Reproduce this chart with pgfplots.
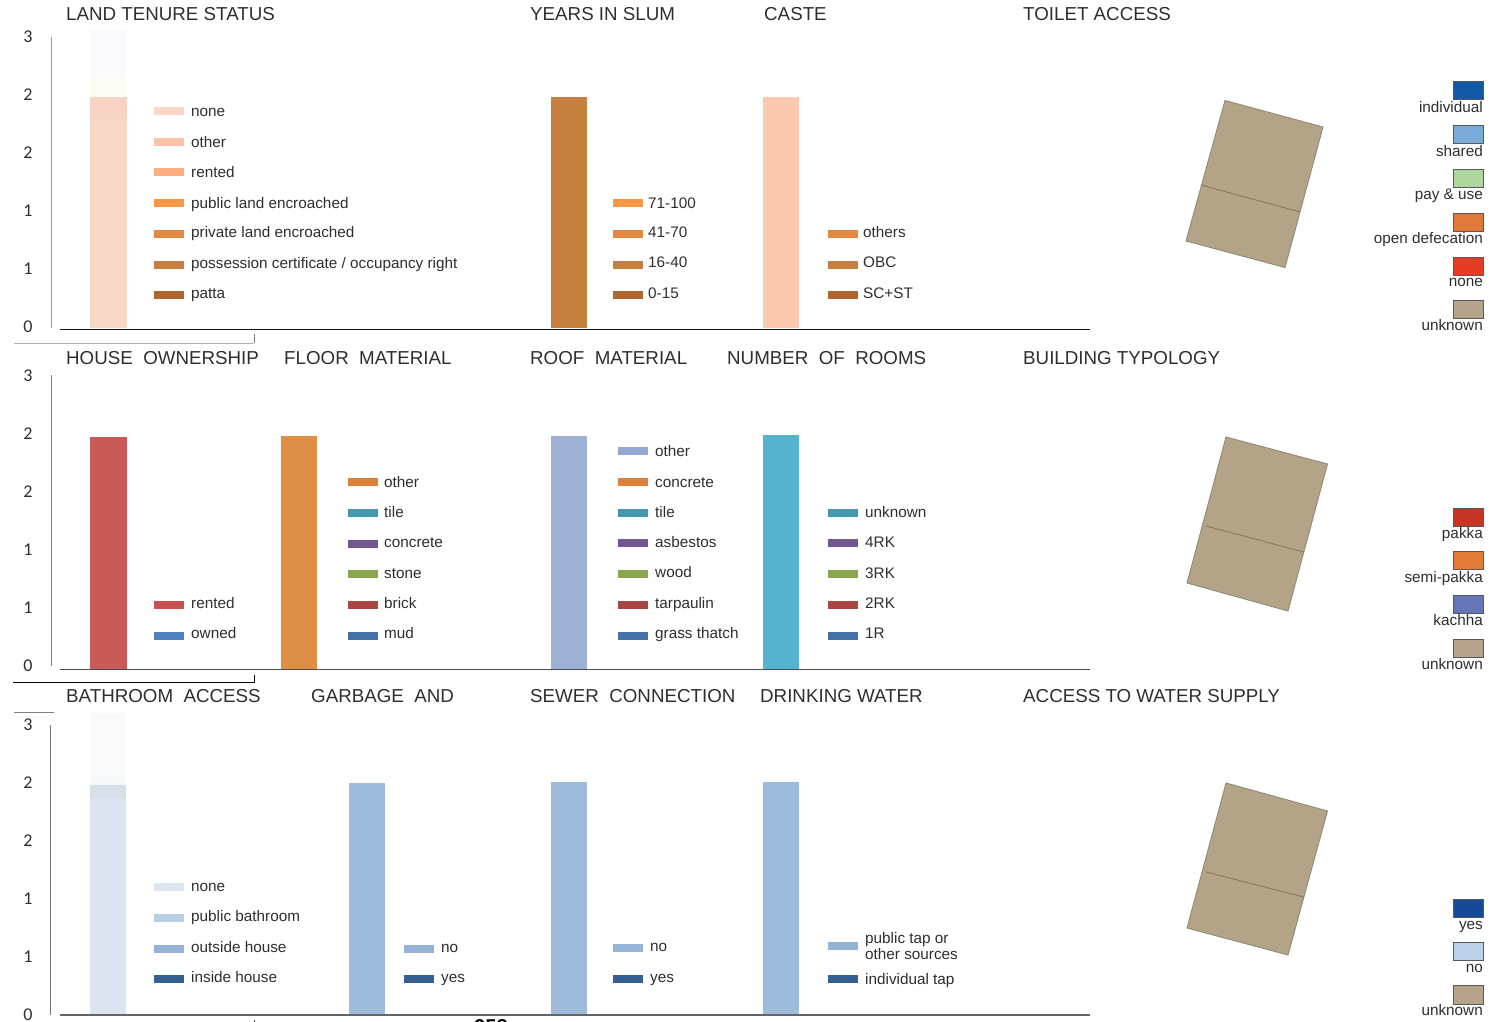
\documentclass[border=0pt]{standalone}
\usepackage{pgfplots}
\pgfplotsset{compat=1.18}
\usepackage{fontspec}
\setmainfont{Liberation Sans}
\newfontfamily\tickfam{Carlito}
\newcommand\ttlf{\fontsize{18.75}{18.75}\selectfont}
\newcommand\lgf{\fontsize{15.3}{15.3}\selectfont}
\newcommand\tkf{\tickfam\fontsize{18}{18}\selectfont}
\definecolor{tc}{HTML}{2E2E2E}
\pgfplotsforeachungrouped \c in {F6D3C4,F8D7C7,C5803F,FBC9AF,C85A59,DF8E45,9EB1D5,56B3CF,FAFAFC,FCFCF7,FAFAFA,F6F9FA,D5E0EA,DAE5F1,9FBBDB,
 FAD6C6,FAC3A8,FBAE7F,F99746,E38842,C77E3E,B06630,C85252,4F81BD,DC813C,4198AF,71588F,89A54E,AA4643,4572A7,94A9D1,DCE6F1,B9CDE5,95B3D7,366092,
 1259A8,7AAAD8,B0D6A0,E07838,E63C24,B5A48A,C63426,E27A38,6475B8,174A96,BCD0EA}{\definecolor{\c}{HTML}{\c}}
\newcommand\Ttl[3]{\node[anchor=base west,inner sep=0pt,font=\ttlf,text=tc] at (#1pt,-#2pt) {#3};}
% swatch x, swatch centre y, text x, baseline, colour, text
\newcommand\Lg[6]{\fill[#5] (#1pt,-#2pt-4pt) rectangle (#1pt+30pt,-#2pt+4pt);
  \node[anchor=base west,inner sep=0pt,font=\lgf,text=tc] at (#3pt,-#4pt) {#6};}
\newcommand\Tx[3]{\node[anchor=base west,inner sep=0pt,font=\lgf,text=tc] at (#1pt,-#2pt) {#3};}
% swatch top, swatch bottom, baseline, colour, text
\newcommand\Rg[5]{\draw[draw=black!65,line width=.9pt,fill=#4] (1453.5pt,-#1pt) rectangle (1483pt,-#2pt);
  \node[anchor=base east,inner sep=0pt,font=\lgf,text=tc] at (1483pt,-#3pt) {#5};}
\newcommand\Map[6]{\filldraw[fill=mapc,draw=mapd,line width=.9pt] (#1) -- (#2) -- (#3) -- (#4) -- cycle;
  \draw[draw=mapl,line width=.9pt] (#5) -- (#6);}
\definecolor{mapc}{HTML}{B4A487}
\definecolor{mapd}{HTML}{8F8A78}
\definecolor{mapl}{HTML}{8B7659}
\pgfplotsset{
  row/.style={
    scale only axis, width=1039pt, xmin=51, xmax=1090, clip=false,
    axis x line=none, axis y line=left,
    ytick={0,0.5,1,1.5,2,2.5}, yticklabels={0,1,1,2,2,3},
    major tick length=0pt, ytick style={draw=none},
    ymin=0, no marks},
  B/.style 2 args={ybar, bar width=#1pt, bar shift=0pt, fill=#2, draw=none},
}
\begin{document}
\begin{tikzpicture}[x=1pt,y=1pt]
\path[use as bounding box,clip] (0,0) rectangle (1505pt,-1022pt);
% ---------- row 1
\begin{axis}[row, at={(51pt,-328pt)}, anchor=south west, height=291.5pt, ymax=2.513,
  yticklabel style={font=\tkf,text=tc,xshift=-15pt,yshift=1.5pt},
  y axis line style={-,draw=black!40,line width=.9pt}]
\addplot[B={37}{FAFAFC}] coordinates {(108.5,2.569)};
\addplot[B={37}{FCFCF7}] coordinates {(108.5,2.2)};
\addplot[B={37}{F6D3C4}] coordinates {(108.5,1.991)};
\addplot[B={37}{F8D7C7}] coordinates {(108.5,1.8)};
\addplot[B={36}{C5803F}] coordinates {(569,1.991)};
\addplot[B={36}{FBC9AF}] coordinates {(781,1.991)};
\end{axis}
% ---------- row 2
\begin{axis}[row, at={(51pt,-669pt)}, anchor=south west, height=294pt, ymax=2.534,
  yticklabel style={font=\tkf,text=tc,xshift=-15pt,yshift=3pt},
  y axis line style={-,draw=black!50,line width=.9pt,shorten <=3pt}]
\addplot[B={37}{C85A59}] coordinates {(108.5,2.0)};
\addplot[B={36}{DF8E45}] coordinates {(299,2.009)};
\addplot[B={36}{9EB1D5}] coordinates {(569,2.009)};
\addplot[B={36}{56B3CF}] coordinates {(781,2.013)};
\end{axis}
% ---------- row 3
\begin{axis}[row, at={(50pt,-1015pt)}, anchor=south west, width=1040pt, xmin=50, height=290pt, ymax=2.5,
  yticklabel style={font=\tkf,text=tc,xshift=-14pt,yshift=0pt},
  y axis line style={-,draw=black!55,line width=.9pt}]
\addplot[B={36}{FAFAFA}] coordinates {(108,2.603)};
\addplot[B={36}{F6F9FA}] coordinates {(108,2.08)};
\addplot[B={36}{D5E0EA}] coordinates {(108,1.985)};
\addplot[B={36}{DAE5F1}] coordinates {(108,1.87)};
\addplot[B={36}{9FBBDB}] coordinates {(367,2.0)};
\addplot[B={36}{9FBBDB}] coordinates {(569,2.009)};
\addplot[B={36}{9FBBDB}] coordinates {(781,2.009)};
\end{axis}
% axis base lines and stray rules
\draw[black!90,line width=1pt] (60pt,-329.5pt) -- (1090pt,-329.5pt);
\draw[black!70,line width=1.2pt] (60pt,-669.5pt) -- (1090pt,-669.5pt);
\draw[black!60,line width=1.2pt] (60pt,-1015pt) -- (1090pt,-1015pt);
\draw[black!30,line width=.9pt] (14pt,-343pt) -- (254pt,-343pt);
\draw[black!50,line width=.7pt] (254pt,-334pt) -- (254pt,-343pt);
\draw[black,line width=.9pt] (13pt,-682pt) -- (254.5pt,-682pt) -- (254.5pt,-675pt);
\draw[black!50,line width=.7pt] (14pt,-712.5pt) -- (54pt,-712.5pt);
\draw[black!70,line width=.7pt] (254pt,-1020pt) -- (254pt,-1022pt);
\node[anchor=base,inner sep=0pt,font=\fontsize{20}{20}\selectfont\bfseries,text=black] at (491pt,-1033pt) {958};
% titles
\Ttl{66}{21}{LAND TENURE STATUS}
\Ttl{530}{21}{YEARS IN SLUM}
\Ttl{764}{21}{CASTE}
\Ttl{1023}{21}{TOILET ACCESS}
\Ttl{66}{364}{HOUSE\ \ OWNERSHIP}
\Ttl{284}{364}{FLOOR\ \ MATERIAL}
\Ttl{530}{364}{ROOF\ \ MATERIAL}
\Ttl{727}{364}{NUMBER\ \ OF\ \ ROOMS}
\Ttl{1023}{364}{BUILDING TYPOLOGY}
\Ttl{66}{702}{BATHROOM\ \ ACCESS}
\Ttl{311}{702}{GARBAGE\ \ AND}
\Ttl{530}{702}{SEWER\ \ CONNECTION}
\Ttl{760}{702}{DRINKING WATER}
\Ttl{1023}{702}{ACCESS TO WATER SUPPLY}
% row 1 legends
\Lg{154}{111}{191}{117}{FAD6C6}{none}
\Lg{154}{142}{191}{148}{FAC3A8}{other}
\Lg{154}{172}{191}{178}{FBAE7F}{rented}
\Lg{154}{203}{191}{208}{F99746}{public land encroached}
\Lg{154}{233.5}{191}{237}{E38842}{private land encroached}
\Lg{154}{264.5}{191}{268}{C77E3E}{possession certificate / occupancy right}
\Lg{154}{295}{191}{298}{B06630}{patta}
\Lg{613}{203}{648}{208}{F99746}{71-100}
\Lg{613}{233.5}{648}{237}{E38842}{41-70}
\Lg{613}{264.5}{648}{267}{C77E3E}{16-40}
\Lg{613}{295}{648}{298}{B06630}{0-15}
\Lg{828}{233.5}{863}{237}{E38842}{others}
\Lg{828}{264.5}{863}{267}{C77E3E}{OBC}
\Lg{828}{295}{863}{298}{B06630}{SC+ST}
% row 2 legends
\Lg{154}{605}{191}{608}{C85252}{rented}
\Lg{154}{635.5}{191}{638}{4F81BD}{owned}
\Lg{348}{482}{384}{487}{DC813C}{other}
\Lg{348}{512.5}{384}{517}{4198AF}{tile}
\Lg{348}{544}{384}{547}{71588F}{concrete}
\Lg{348}{574}{384}{578}{89A54E}{stone}
\Lg{348}{605}{384}{608}{AA4643}{brick}
\Lg{348}{635.5}{384}{638}{4572A7}{mud}
\Lg{618}{451}{655}{456}{94A9D1}{other}
\Lg{618}{482}{655}{487}{DC813C}{concrete}
\Lg{618}{512.5}{655}{517}{4198AF}{tile}
\Lg{618}{543}{655}{547}{71588F}{asbestos}
\Lg{618}{574}{655}{577}{89A54E}{wood}
\Lg{618}{605}{655}{608}{AA4643}{tarpaulin}
\Lg{618}{635.5}{655}{638}{4572A7}{grass thatch}
\Lg{828}{512.5}{865}{517}{4198AF}{unknown}
\Lg{828}{543}{865}{547}{71588F}{4RK}
\Lg{828}{574}{865}{578}{89A54E}{3RK}
\Lg{828}{605}{865}{608}{AA4643}{2RK}
\Lg{828}{635.5}{865}{638}{4572A7}{1R}
% row 3 legends
\Lg{154}{887}{191}{891}{DCE6F1}{none}
\Lg{154}{918}{191}{921}{B9CDE5}{public bathroom}
\Lg{154}{949}{191}{952}{95B3D7}{outside house}
\Lg{154}{979}{191}{982}{366092}{inside house}
\Lg{404}{949}{441}{952}{95B3D7}{no}
\Lg{404}{979}{441}{982}{366092}{yes}
\Lg{613}{948}{650}{951}{95B3D7}{no}
\Lg{613}{979}{650}{982}{366092}{yes}
\Lg{828}{946}{865}{943}{95B3D7}{public tap or}
\Tx{865}{959}{other sources}
\Lg{828}{979}{865}{984}{366092}{individual tap}
% building footprints
\Map{1225pt,-100.5pt}{1323pt,-127pt}{1285pt,-267.5pt}{1186pt,-241pt}{1201pt,-185pt}{1300pt,-212pt}
\Map{1226pt,-437pt}{1327.5pt,-464pt}{1288pt,-611pt}{1187pt,-583pt}{1206pt,-526pt}{1304pt,-552pt}
\Map{1226pt,-783pt}{1327.5pt,-811pt}{1288pt,-955pt}{1187pt,-928pt}{1206pt,-872pt}{1304pt,-897pt}
% right legends
\Rg{81}{99.5}{113}{1259A8}{individual}
\Rg{125}{143}{157}{7AAAD8}{shared}
\Rg{169}{187}{199}{B0D6A0}{pay \& use}
\Rg{213}{231}{243}{E07838}{open defecation}
\Rg{257}{275}{286}{E63C24}{none}
\Rg{300.5}{318.5}{330}{B5A48A}{unknown}
\Rg{508.5}{526.5}{538}{C63426}{pakka}
\Rg{551.5}{569.5}{582}{E27A38}{semi-pakka}
\Rg{595}{613}{625}{6475B8}{kachha}
\Rg{639}{657}{669}{B5A48A}{unknown}
\Rg{899}{917.5}{929}{174A96}{yes}
\Rg{942}{960}{972}{BCD0EA}{no}
\Rg{985.5}{1004}{1015}{B5A48A}{unknown}
\end{tikzpicture}
\end{document}
